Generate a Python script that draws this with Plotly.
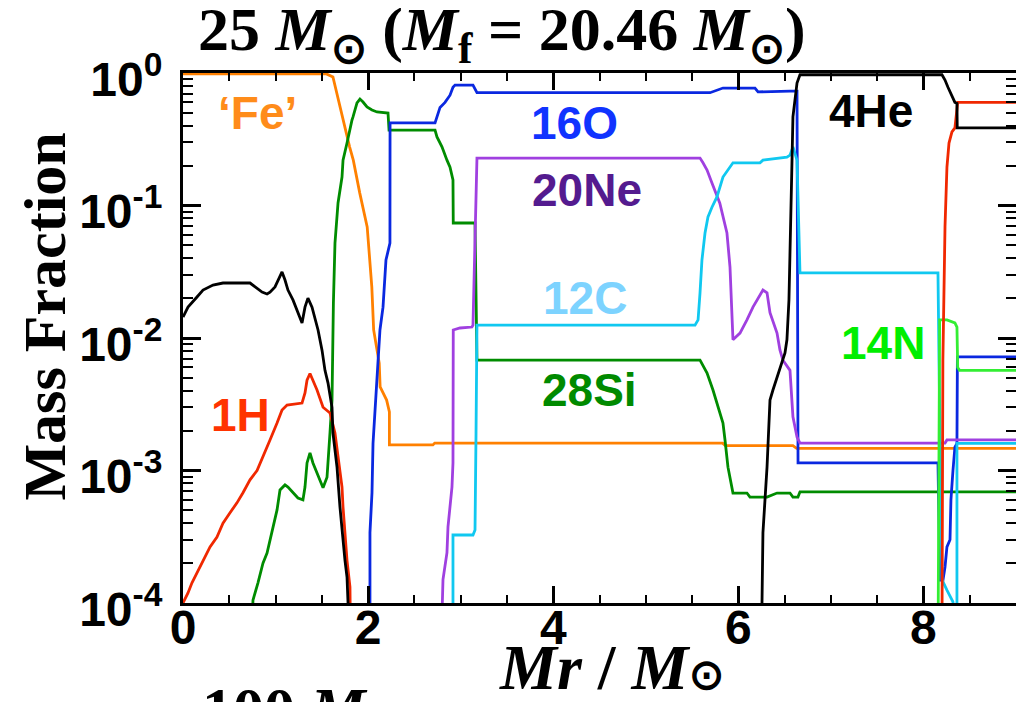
import plotly.graph_objects as go

# ---------------- data (mass fraction vs Mr / Msun) ----------------
fe_mr = [0.0, 1.55, 1.62, 1.66, 1.73, 1.80, 1.84, 1.91, 1.99, 2.02, 2.04, 2.06, 2.12, 2.13, 2.20, 2.23, 2.23, 2.70, 2.72, 5.83, 5.86, 6.59, 6.63, 9.0]
fe_x = [0.985, 0.985, 0.933, 0.706, 0.442, 0.277, 0.22, 0.124, 0.069, 0.0388, 0.0243, 0.0115, 6.46e-3, 4.27e-3, 3.4e-3, 2.77e-3, 1.56e-3, 1.56e-3, 1.61e-3, 1.61e-3, 1.54e-3, 1.54e-3, 1.47e-3, 1.47e-3]

si_mr = [0.74, 0.756, 0.81, 0.864, 0.908, 0.94, 0.972, 1.016, 1.048, 1.102, 1.134, 1.188, 1.242, 1.296, 1.318, 1.34, 1.372, 1.404, 1.448, 1.502, 1.513, 1.556, 1.567, 1.588, 1.61, 1.62, 1.625, 1.642, 1.675, 1.718, 1.729, 1.772, 1.804, 1.826, 1.837, 1.88, 1.912, 1.945, 1.988, 2.042, 2.096, 2.215, 2.226, 2.723, 2.744, 2.798, 2.852, 2.885, 2.917, 2.92, 3.155, 3.176, 5.586, 5.662, 5.726, 5.78, 5.834, 5.856, 5.888, 5.942, 6.093, 6.126, 6.31, 6.418, 6.558, 6.59, 6.644, 6.666, 9.0]
si_x = [5e-5, 1.05e-4, 1.42e-4, 2.0e-4, 2.38e-4, 2.98e-4, 3.75e-4, 5.04e-4, 7.13e-4, 7.78e-4, 7.5e-4, 6.76e-4, 6.2e-4, 6.0e-4, 7.5e-4, 1.14e-3, 1.36e-3, 1.14e-3, 9.6e-4, 7.8e-4, 7.4e-4, 8.9e-4, 1.26e-3, 1.92e-3, 3.4e-3, 1.09e-2, 1.84e-2, 0.052, 0.1045, 0.164, 0.22, 0.296, 0.391, 0.442, 0.466, 0.594, 0.636, 0.604, 0.554, 0.526, 0.508, 0.499, 0.371, 0.371, 0.329, 0.277, 0.22, 0.195, 0.156, 0.0738, 0.0738, 6.8e-3, 6.8e-3, 5.44e-3, 4.05e-3, 3.01e-3, 2.28e-3, 1.7e-3, 1.06e-3, 6.76e-4, 6.76e-4, 6.3e-4, 6.3e-4, 6.76e-4, 6.76e-4, 6.3e-4, 6.3e-4, 6.9e-4, 6.9e-4]

o_mr = [2.01, 2.02, 2.02, 2.042, 2.053, 2.063, 2.096, 2.107, 2.128, 2.161, 2.193, 2.236, 2.237, 2.723, 2.777, 2.831, 2.885, 2.917, 2.939, 3.133, 3.176, 5.694, 5.834, 6.18, 6.213, 6.558, 6.634, 6.645, 8.157, 8.178, 8.211, 8.233, 8.254, 8.287, 8.297, 8.319, 8.34, 8.362, 8.367, 9.0]
o_x = [5e-5, 1.0e-4, 3.4e-4, 6.8e-4, 1.6e-3, 2.13e-3, 4.57e-3, 6.8e-3, 1.15e-2, 1.71e-2, 3.88e-2, 5.2e-2, 0.42, 0.42, 0.55, 0.60, 0.68, 0.78, 0.81, 0.81, 0.71, 0.71, 0.77, 0.77, 0.72, 0.73, 0.73, 1.14e-3, 1.14e-3, 1.49e-4, 1.49e-4, 1.87e-4, 2.65e-4, 3.0e-4, 6.0e-4, 1.0e-3, 1.5e-3, 1.6e-3, 7.2e-3, 7.2e-3]

ne_mr = [2.79, 2.798, 2.809, 2.852, 2.863, 2.906, 2.917, 2.92, 2.993, 3.122, 3.133, 3.176, 5.586, 5.618, 5.662, 5.715, 5.78, 5.80, 5.877, 5.91, 5.942, 6.018, 6.093, 6.158, 6.266, 6.31, 6.342, 6.418, 6.45, 6.482, 6.558, 6.59, 6.634, 6.666, 8.233, 8.254, 9.0]
ne_x = [5e-5, 1.05e-4, 1.5e-4, 2.4e-4, 3.75e-4, 7.5e-4, 1.14e-3, 1.15e-2, 1.19e-2, 1.21e-2, 1.25e-2, 0.228, 0.228, 0.21, 0.185, 0.148, 0.11, 0.104, 0.062, 0.0343, 9.7e-3, 1.09e-2, 1.37e-2, 1.71e-2, 2.3e-2, 2.19e-2, 1.55e-2, 1.09e-2, 8.1e-3, 6.8e-3, 5.7e-3, 2.54e-3, 1.79e-3, 1.61e-3, 1.61e-3, 1.7e-3, 1.7e-3]

c_mr = [2.917, 2.917, 3.133, 3.155, 3.166, 3.176, 5.532, 5.565, 5.586, 5.607, 5.64, 5.672, 5.715, 5.769, 5.834, 5.942, 6.234, 6.266, 6.525, 6.558, 6.59, 6.634, 6.666, 8.157, 8.168, 8.2, 8.254, 8.319, 8.34, 8.362, 8.362, 9.0]
c_x = [5e-5, 3.26e-4, 3.26e-4, 3.56e-4, 1.92e-3, 1.25e-2, 1.25e-2, 1.37e-2, 2.19e-2, 3.88e-2, 6.2e-2, 8.2e-2, 9.7e-2, 0.116, 0.164, 0.21, 0.21, 0.22, 0.232, 0.24, 0.277, 0.22, 0.031, 0.031, 6.8e-3, 1.5e-4, 1.25e-4, 1.02e-4, 5e-5, 5e-5, 1.6e-3, 1.6e-3]

he_mr = [0.0, 0.054, 0.151, 0.216, 0.324, 0.432, 0.724, 0.778, 0.854, 0.908, 0.94, 0.994, 1.026, 1.07, 1.102, 1.134, 1.188, 1.242, 1.286, 1.318, 1.35, 1.394, 1.426, 1.459, 1.502, 1.534, 1.567, 1.61, 1.62, 1.664, 1.696, 1.718, 1.75, 1.772, 1.783, 1.80, None, 6.25, 6.266, 6.31, 6.342, 6.374, 6.45, 6.504, 6.525, 6.547, 6.58, 6.59, 6.634, 6.666, 8.2, 8.233, 8.265, 8.308, 8.34, 8.362, 8.365, 9.0]
he_x = [1.44e-2, 1.71e-2, 2.04e-2, 2.3e-2, 2.51e-2, 2.6e-2, 2.6e-2, 2.43e-2, 2.22e-2, 2.15e-2, 2.22e-2, 2.43e-2, 2.74e-2, 3.15e-2, 2.74e-2, 2.3e-2, 1.94e-2, 1.55e-2, 1.3e-2, 1.71e-2, 2.0e-2, 1.71e-2, 1.42e-2, 1.15e-2, 8.1e-3, 5.7e-3, 4.57e-3, 3.0e-3, 1.92e-3, 1.06e-3, 5.3e-4, 3.4e-4, 2.1e-4, 1.57e-4, 1.05e-4, 5e-5, None, 5e-5, 3.4e-4, 1.06e-3, 3.4e-3, 4.05e-3, 6.0e-3, 7.7e-3, 9.7e-3, 1.94e-2, 0.22, 0.466, 0.84, 0.97, 0.97, 0.885, 0.78, 0.68, 0.60, 0.59, 0.385, 0.385]

h_mr = [0.0, 0.054, 0.097, 0.151, 0.216, 0.292, 0.367, 0.432, 0.508, 0.583, 0.648, 0.724, 0.8, 0.864, 0.94, 1.016, 1.07, 1.124, 1.286, 1.318, 1.34, 1.372, 1.404, 1.448, 1.513, 1.588, 1.642, 1.675, 1.718, 1.729, 1.75, 1.772, 1.804, 1.81, None, 8.20, 8.21, 8.233, 8.254, 8.276, 8.308, 8.34, 8.362, 8.37, 9.0]
h_x = [1.0e-4, 1.19e-4, 1.42e-4, 1.68e-4, 2.1e-4, 2.65e-4, 3.15e-4, 4.0e-4, 4.8e-4, 5.7e-4, 6.8e-4, 8.5e-4, 1.0e-3, 1.26e-3, 1.7e-3, 2.28e-3, 2.86e-3, 3.12e-3, 3.23e-3, 3.85e-3, 4.8e-3, 5.4e-3, 4.8e-3, 4.05e-3, 3.0e-3, 2.72e-3, 1.92e-3, 1.26e-3, 7.5e-4, 5.3e-4, 3.4e-4, 2.1e-4, 1.32e-4, 5e-5, None, 5e-5, 6.8e-3, 6.9e-2, 0.195, 0.296, 0.359, 0.385, 0.59, 0.60, 0.60]

n_mr = [8.15, 8.16, 8.175, 8.254, 8.34, 8.362, 8.37, 8.39, 9.0]
n_x = [5e-5, 1.0e-4, 1.37e-2, 1.37e-2, 1.3e-2, 1.21e-2, 6.0e-3, 5.7e-3, 5.7e-3]

y_tick_vals = [1e-4, 1e-3, 1e-2, 1e-1, 1e0]
y_tick_text = ["10<sup>-4</sup>", "10<sup>-3</sup>", "10<sup>-2</sup>", "10<sup>-1</sup>", "10<sup>0</sup>"]
x_tick_vals = [0, 2, 4, 6, 8]
x_tick_text = ["0", "2", "4", "6", "8"]

species = [
    ("Fe", fe_mr, fe_x, "#ff8000"),
    ("28Si", si_mr, si_x, "#008c00"),
    ("16O", o_mr, o_x, "#0a28e0"),
    ("20Ne", ne_mr, ne_x, "#a040e0"),
    ("12C", c_mr, c_x, "#10c8f0"),
    ("14N", n_mr, n_x, "#33ee33"),
    ("1H", h_mr, h_x, "#f02800"),
    ("4He", he_mr, he_x, "#000000"),
]

fig = go.Figure()
for name, xs, ys, col in species:
    fig.add_trace(go.Scatter(x=xs, y=ys, mode="lines", name=name,
                             line=dict(color=col, width=2.8),
                             connectgaps=False, showlegend=False))

minor_y = [k * 10.0 ** e for e in range(-4, 0) for k in range(2, 10)]

tickfont = dict(family="Liberation Sans", size=48, color="black", weight="bold")

fig.update_xaxes(range=[0, 9], tickvals=x_tick_vals, ticktext=x_tick_text,
                 ticks="inside", ticklen=17, tickwidth=2.5, tickcolor="black",
                 showline=True, linewidth=3, linecolor="black", mirror="ticks",
                 showgrid=False, zeroline=False, tickfont=tickfont,
                 automargin=False, ticklabelstandoff=-20,
                 minor=dict(dtick=0.5, ticks="inside", ticklen=8, tickwidth=2,
                            tickcolor="black", showgrid=False))
fig.update_yaxes(type="log", range=[-4, 0], tickvals=y_tick_vals, ticktext=y_tick_text,
                 ticks="inside", ticklen=18, tickwidth=2.5, tickcolor="black",
                 showline=True, linewidth=3, linecolor="black", mirror="ticks",
                 showgrid=False, zeroline=False, tickfont=tickfont,
                 automargin=False, ticklabelstandoff=8, ticklabelshift=6,
                 minor=dict(tickvals=minor_y, ticks="inside", ticklen=10, tickwidth=2,
                            tickcolor="black", showgrid=False))

serif = "Liberation Serif"
sans = "Liberation Sans"
ann = []
ann.append(dict(xref="paper", yref="paper", x=0.383, y=1.075, xanchor="center", yanchor="middle",
                text="<b>25 <i>M</i><sub>⊙</sub> (<i>M</i><sub>f</sub> = 20.46 <i>M</i><sub>⊙</sub>)</b>",
                showarrow=False, font=dict(family=serif, size=62, color="black")))
ann.append(dict(xref="paper", yref="paper", x=0.515, y=-0.122, xanchor="center", yanchor="middle",
                text="<b><i>Mr</i> / <i>M</i><span style=\"font-size:42px\">⊙</span></b>",
                showarrow=False, font=dict(family=serif, size=64, color="black")))
ann.append(dict(xref="paper", yref="paper", x=-0.166, y=0.54, xanchor="center", yanchor="middle",
                text="<b>Mass Fraction</b>", textangle=-90,
                showarrow=False, font=dict(family=serif, size=60, color="black")))
ann.append(dict(xref="paper", yref="paper", x=0.0204, y=-0.2, xanchor="left", yanchor="middle",
                text="<b>100 <i>M</i></b>",
                showarrow=False, font=dict(family=serif, size=62, color="black")))

labels = [
    ("‘Fe’", 0.81, -0.30, "#ff8c1a"),
    ("16O", 4.235, -0.375, "#1033ff"),
    ("20Ne", 4.365, -0.88, "#541b8f"),
    ("12C", 4.343, -1.70, "#7dd3ff"),
    ("28Si", 4.397, -2.39, "#008a00"),
    ("1H", 0.616, -2.58, "#ff3300"),
    ("4He", 7.433, -0.29, "#000000"),
    ("14N", 7.563, -2.04, "#00ee00"),
]
for txt, lx, ly, col in labels:
    ann.append(dict(xref="x", yref="y", x=lx, y=ly, xanchor="center", yanchor="middle",
                    text="<b>" + txt + "</b>", showarrow=False,
                    font=dict(family=sans, size=46, color=col)))

# the page body adds an 8px offset, so the figure is 1016x694 with matching margins
fig.update_layout(width=1016, height=694, margin=dict(l=175, r=8, t=65, b=99),
                  paper_bgcolor="white", plot_bgcolor="white", annotations=ann)

fig.write_html("out.html")
